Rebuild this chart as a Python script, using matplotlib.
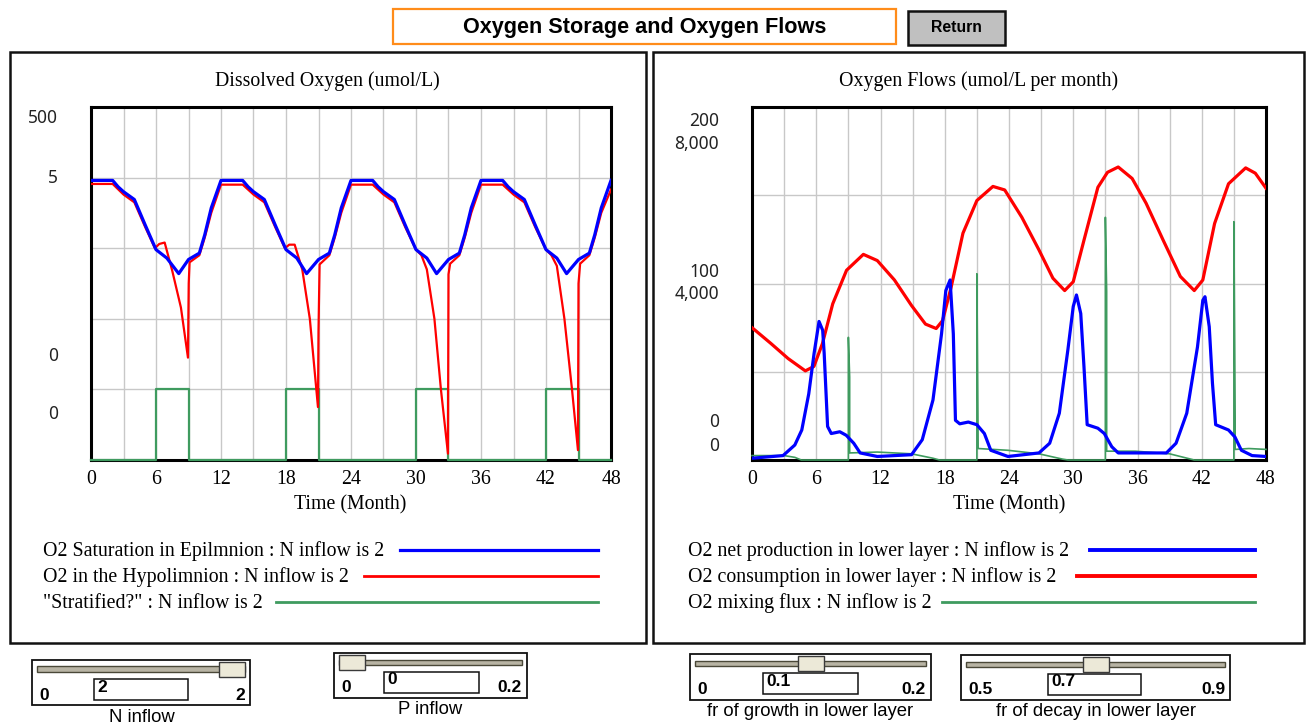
import matplotlib
matplotlib.use("Agg")
import matplotlib.pyplot as plt
from matplotlib.patches import Rectangle
from matplotlib import font_manager

W, H = 1311, 723

# ---------------- data (grid units of each plot) ----------------
months = list(range(0, 49, 6))

# left plot: Dissolved Oxygen (display units, 5 grid rows)
epi_t = [0, 2.0, 2.5, 3.0, 4.0, 5.0, 6.0, 7.0, 8.1, 9.0, 10.0, 10.5, 11.1, 12.0,
         14.0, 14.5, 15.0, 16.0, 17.0, 18.0, 19.0, 19.9, 21.0, 22.0, 22.5, 23.1, 24.0,
         26.0, 26.5, 27.0, 28.0, 29.0, 30.0, 31.0, 31.9, 33.0, 34.0, 34.5, 35.1, 36.0,
         38.0, 38.5, 39.0, 40.0, 41.0, 42.0, 43.0, 43.9, 45.0, 46.0, 46.5, 47.1, 48.0]
epi_v = [3.96, 3.96, 3.87, 3.80, 3.69, 3.33, 2.98, 2.86, 2.64, 2.84, 2.93, 3.19, 3.57, 3.96,
         3.96, 3.87, 3.80, 3.69, 3.33, 2.98, 2.86, 2.64, 2.84, 2.93, 3.19, 3.57, 3.96,
         3.96, 3.87, 3.80, 3.69, 3.33, 2.98, 2.86, 2.64, 2.84, 2.93, 3.19, 3.57, 3.96,
         3.96, 3.87, 3.80, 3.69, 3.33, 2.98, 2.86, 2.64, 2.84, 2.93, 3.19, 3.57, 3.96]

hypo_t = [0, 2.0, 3.0, 4.0, 5.0, 5.9, 6.3, 6.8, 7.5, 8.3, 8.95, 9.02, 9.1, 10.0, 10.5, 11.1, 12.0,
          14.0, 15.0, 16.0, 17.0, 17.9, 18.3, 18.8, 19.5, 20.2, 20.95, 21.0, 21.1, 22.0, 22.5, 23.1, 24.0,
          26.0, 27.0, 28.0, 29.0, 30.0, 30.5, 31.0, 31.7, 32.3, 32.95, 33.0, 33.15, 34.0, 34.5, 35.1, 36.0,
          38.0, 39.0, 40.0, 41.0, 42.0, 42.5, 43.0, 43.7, 44.4, 44.95, 45.0, 45.15, 46.0, 46.5, 47.1, 48.0]
hypo_v = [3.91, 3.91, 3.76, 3.65, 3.30, 3.00, 3.06, 3.08, 2.68, 2.16, 1.45, 2.50, 2.80, 2.90, 3.15, 3.50, 3.90,
          3.90, 3.76, 3.65, 3.30, 3.00, 3.05, 3.05, 2.70, 2.00, 0.75, 1.83, 2.77, 2.90, 3.15, 3.50, 3.90,
          3.90, 3.76, 3.65, 3.30, 2.98, 2.90, 2.70, 2.00, 1.00, 0.09, 2.63, 2.78, 2.90, 3.15, 3.50, 3.90,
          3.90, 3.76, 3.65, 3.30, 2.98, 2.90, 2.75, 2.00, 1.00, 0.14, 2.50, 2.78, 2.90, 3.15, 3.50, 3.83]

strat_t = [0, 6, 6, 9, 9, 18, 18, 21, 21, 30, 30, 33, 33, 42, 42, 45, 45, 48]
strat_v = [0, 0, 1, 1, 0, 0, 1, 1, 0, 0, 1, 1, 0, 0, 1, 1, 0, 0]

# right plot: Oxygen Flows (display units, 4 grid rows)
cons_t = [0, 1.77, 3.37, 4.98, 5.78, 6.58, 7.54, 8.83, 10.4, 11.7, 13.3, 14.9, 16.2, 17.2, 17.8,
          18.6, 19.7, 21.0, 22.5, 23.6, 25.2, 26.8, 28.1, 29.2, 30.0, 31.0, 32.3, 33.2, 34.2,
          35.5, 36.8, 38.4, 40.0, 41.3, 42.1, 43.2, 44.5, 46.1, 47.0, 48.0]
cons_v = [1.50, 1.32, 1.15, 1.01, 1.06, 1.32, 1.77, 2.15, 2.33, 2.26, 2.04, 1.75, 1.54, 1.49, 1.58,
          1.96, 2.57, 2.94, 3.10, 3.06, 2.75, 2.38, 2.06, 1.92, 2.02, 2.49, 3.09, 3.26, 3.32,
          3.19, 2.91, 2.49, 2.08, 1.92, 2.04, 2.68, 3.13, 3.31, 3.25, 3.08]

prod_t = [0, 2.9, 4.0, 4.65, 5.3, 5.8, 6.26, 6.6, 6.74, 7.06, 7.4, 8.2, 8.8, 9.5, 10.1, 11.7,
          14.9, 15.9, 16.9, 17.7, 18.1, 18.5, 18.8, 19.0, 19.4, 20.2, 21.0, 21.7, 22.3, 23.9,
          26.8, 27.8, 28.7, 29.5, 30.0, 30.3, 30.7, 31.0, 31.3, 32.3, 32.9, 33.6, 34.2,
          38.7, 39.6, 40.6, 41.6, 42.1, 42.3, 42.7, 43.0, 43.3, 44.5, 45.1, 45.7, 46.7, 48.0]
prod_v = [0.02, 0.05, 0.17, 0.34, 0.75, 1.21, 1.57, 1.47, 1.21, 0.38, 0.30, 0.32, 0.28, 0.19, 0.08, 0.04,
          0.06, 0.23, 0.68, 1.43, 1.92, 2.04, 1.43, 0.45, 0.41, 0.43, 0.40, 0.30, 0.11, 0.04,
          0.08, 0.19, 0.53, 1.25, 1.74, 1.87, 1.66, 1.06, 0.40, 0.36, 0.30, 0.15, 0.08,
          0.08, 0.19, 0.53, 1.28, 1.81, 1.85, 1.51, 0.87, 0.40, 0.34, 0.26, 0.11, 0.05, 0.04]

mix_t = [0, 3.0, 4.0, 4.6, 9.0, 9.0, 9.12, 9.12, 11.7, 14.9, 16.9, 17.5, 21.0, 21.0, 21.12,
         23.9, 26.8, 29.0, 29.5, 33.0, 33.0, 33.12, 33.12, 35.8, 39.0, 41.3, 45.0, 45.0, 45.12,
         45.12, 46.4, 48.0]
mix_v = [0.05, 0.05, 0.03, 0.0, 0.0, 1.39, 0.94, 0.08, 0.09, 0.07, 0.02, 0.0, 0.0, 2.11, 0.13,
         0.11, 0.07, 0.01, 0.0, 0.0, 2.75, 1.91, 0.10, 0.10, 0.07, 0.0, 0.0, 2.70, 0.47,
         0.12, 0.13, 0.12]

left_ylabels = ["500", "5", "0", "0"]
right_ylabels = ["200", "8,000", "100", "4,000", "0", "0"]
left_legend = ["O2 Saturation in Epilmnion : N inflow is 2",
               "O2 in the Hypolimnion : N inflow is 2",
               "\"Stratified?\" : N inflow is 2"]
right_legend = ["O2 net production in lower layer : N inflow is 2",
                "O2 consumption in lower layer : N inflow is 2",
                "O2 mixing flux : N inflow is 2"]
sliders = [  # label, min, value, max, fraction
    ("N inflow", "0", "2", "2", 1.0),
    ("P inflow", "0", "0", "0.2", 0.0),
    ("fr of growth in lower layer", "0", "0.1", "0.2", 0.5),
    ("fr of decay in lower layer", "0.5", "0.7", "0.9", 0.5),
]

BLUE, RED, GREEN = "#0000ff", "#ff0000", "#3f9b5f"
GRID = "#c8c8c8"
SERIF = ["Liberation Serif", "DejaVu Serif"]
SANS = ["Liberation Sans", "DejaVu Sans"]
FS = 14.3

fig = plt.figure(figsize=(W / 100, H / 100), dpi=100)
fig.patch.set_facecolor("white")


def fx(x):
    return x / W


def fy(y):
    return 1 - y / H


def rect(x0, y0, x1, y1, **kw):
    r = Rectangle((fx(x0), fy(y1)), fx(x1) - fx(x0), fy(y0) - fy(y1),
                  transform=fig.transFigure, **kw)
    fig.add_artist(r)
    return r


def line(x0, y0, x1, y1, **kw):
    fig.add_artist(plt.Line2D([fx(x0), fx(x1)], [fy(y0), fy(y1)], transform=fig.transFigure, **kw))


# ---------------- header ----------------
rect(393, 9, 896, 44, facecolor="white", edgecolor="#ff8c1a", lw=1.6)
fig.text(fx(645), fy(27), "Oxygen Storage and Oxygen Flows", ha="center", va="center",
         family=SANS, fontsize=15.6, fontweight="bold")
rect(908, 11, 1005, 45, facecolor="#c0c0c0", edgecolor="#111111", lw=1.8)
fig.text(fx(956.5), fy(28), "Return", ha="center", va="center", family=SANS, fontsize=11.3,
         fontweight="bold")

# ---------------- panels ----------------
rect(10, 52, 646, 643, facecolor="none", edgecolor="#111111", lw=1.8)
rect(653, 52, 1304, 643, facecolor="none", edgecolor="#111111", lw=1.8)


def make_axes(x0, x1, nrows):
    ax = fig.add_axes([fx(x0), fy(460), fx(x1) - fx(x0), fy(107) - fy(460)])
    ax.set_xlim(0, 48)
    ax.set_ylim(0, nrows)
    ax.set_xticks(range(0, 49, 3))
    ax.set_yticks(range(0, nrows + 1))
    ax.grid(True, color=GRID, lw=1.0)
    ax.tick_params(length=0, labelleft=False, labelbottom=False)
    for s in ax.spines.values():
        s.set_linewidth(2.2)
        s.set_color("black")
    ax.set_axisbelow(True)
    for m in months:
        ax.text(m, -0.054 * nrows, str(m), ha="center", va="center", transform=ax.transData,
                family=SERIF, fontsize=FS, clip_on=False)
    return ax


# left plot
axL = make_axes(91, 611, 5)
fig.text(fx(327), fy(81), "Dissolved Oxygen (umol/L)", ha="center", va="center", family=SERIF, fontsize=FS)
fig.text(fx(350), fy(505), "Time (Month)", ha="center", va="center", family=SERIF, fontsize=FS)
axL.plot(strat_t, strat_v, color=GREEN, lw=1.6, clip_on=False, zorder=5)
axL.plot(hypo_t, hypo_v, color=RED, lw=1.6, zorder=6)
axL.plot(epi_t, epi_v, color=BLUE, lw=2.3, zorder=7)
for lab, y in zip(left_ylabels, [118, 178, 356, 414]):
    fig.text(fx(58), fy(y), lab, ha="right", va="center", family=["Noto Sans", "DejaVu Sans"],
             fontsize=12.5, color="#222222")

# right plot
axR = make_axes(752, 1266, 4)
fig.text(fx(979), fy(81), "Oxygen Flows (umol/L per month)", ha="center", va="center", family=SERIF, fontsize=FS)
fig.text(fx(1009), fy(505), "Time (Month)", ha="center", va="center", family=SERIF, fontsize=FS)
axR.plot(mix_t, mix_v, color=GREEN, lw=1.2, clip_on=False, zorder=5)
axR.plot(cons_t, cons_v, color=RED, lw=2.3, zorder=6)
axR.plot(prod_t, prod_v, color=BLUE, lw=2.3, zorder=7)
for lab, y in zip(right_ylabels, [121, 144, 272, 294, 422, 446]):
    fig.text(fx(719), fy(y), lab, ha="right", va="center", family=["Noto Sans", "DejaVu Sans"],
             fontsize=12.5, color="#222222")

# legends
for lab, y, c, x0, lw in zip(left_legend, [551, 577, 603], [BLUE, RED, GREEN], [400, 364, 276], [2.3, 2.0, 2.0]):
    fig.text(fx(43), fy(y), lab, ha="left", va="center", family=SERIF, fontsize=FS)
    line(x0, y - 1, 598, y - 1, color=c, lw=lw)
for lab, y, c, x0, lw in zip(right_legend, [551, 577, 603], [BLUE, RED, GREEN], [1090, 1077, 942], [2.8, 2.8, 2.0]):
    fig.text(fx(688), fy(y), lab, ha="left", va="center", family=SERIF, fontsize=FS)
    line(x0, y - 1, 1255, y - 1, color=c, lw=lw)

# ---------------- sliders ----------------
slider_geo = [  # box x0,y0,x1,y1 ; value box x0,x1 ; label x
    (32, 660, 250, 705, 94, 188, 142),
    (334, 653, 527, 698, 384, 479, 430),
    (690, 654, 931, 700, 763, 858, 810),
    (961, 655, 1230, 700, 1048, 1141, 1096),
]
for (lab, lo, val, hi, frac), (bx0, by0, bx1, by1, vx0, vx1, lx) in zip(sliders, slider_geo):
    rect(bx0, by0, bx1, by1, facecolor="white", edgecolor="#111111", lw=1.3)
    ty = by0 + 9
    tx0, tx1 = bx0 + 5, bx1 - 5
    rect(tx0, ty - 2.5, tx1, ty + 2.5, facecolor="#b8b4a4", edgecolor="#4a4838", lw=1.0)
    thw = 26
    cx = tx0 + thw / 2 + frac * (tx1 - tx0 - thw)
    rect(cx - thw / 2, ty - 7, cx + thw / 2, ty + 8, facecolor="#ece9d8", edgecolor="#3a3a3a", lw=1.0, zorder=3)
    rect(vx0, by0 + 19, vx1, by0 + 40, facecolor="white", edgecolor="#111111", lw=1.1)
    fig.text(fx(vx0 + 3), fy(by0 + 27), val, ha="left", va="center", family=SANS, fontsize=12.5,
             fontweight="bold")
    fig.text(fx(bx0 + 7), fy(by0 + 35), lo, ha="left", va="center", family=SANS, fontsize=12.5,
             fontweight="bold")
    fig.text(fx(bx1 - 5), fy(by0 + 35), hi, ha="right", va="center", family=SANS, fontsize=12.5,
             fontweight="bold")
    fig.text(fx(lx), fy(by1 + 12), lab, ha="center", va="center", family=SANS, fontsize=13.3)

fig.savefig("out.png", dpi=100)
